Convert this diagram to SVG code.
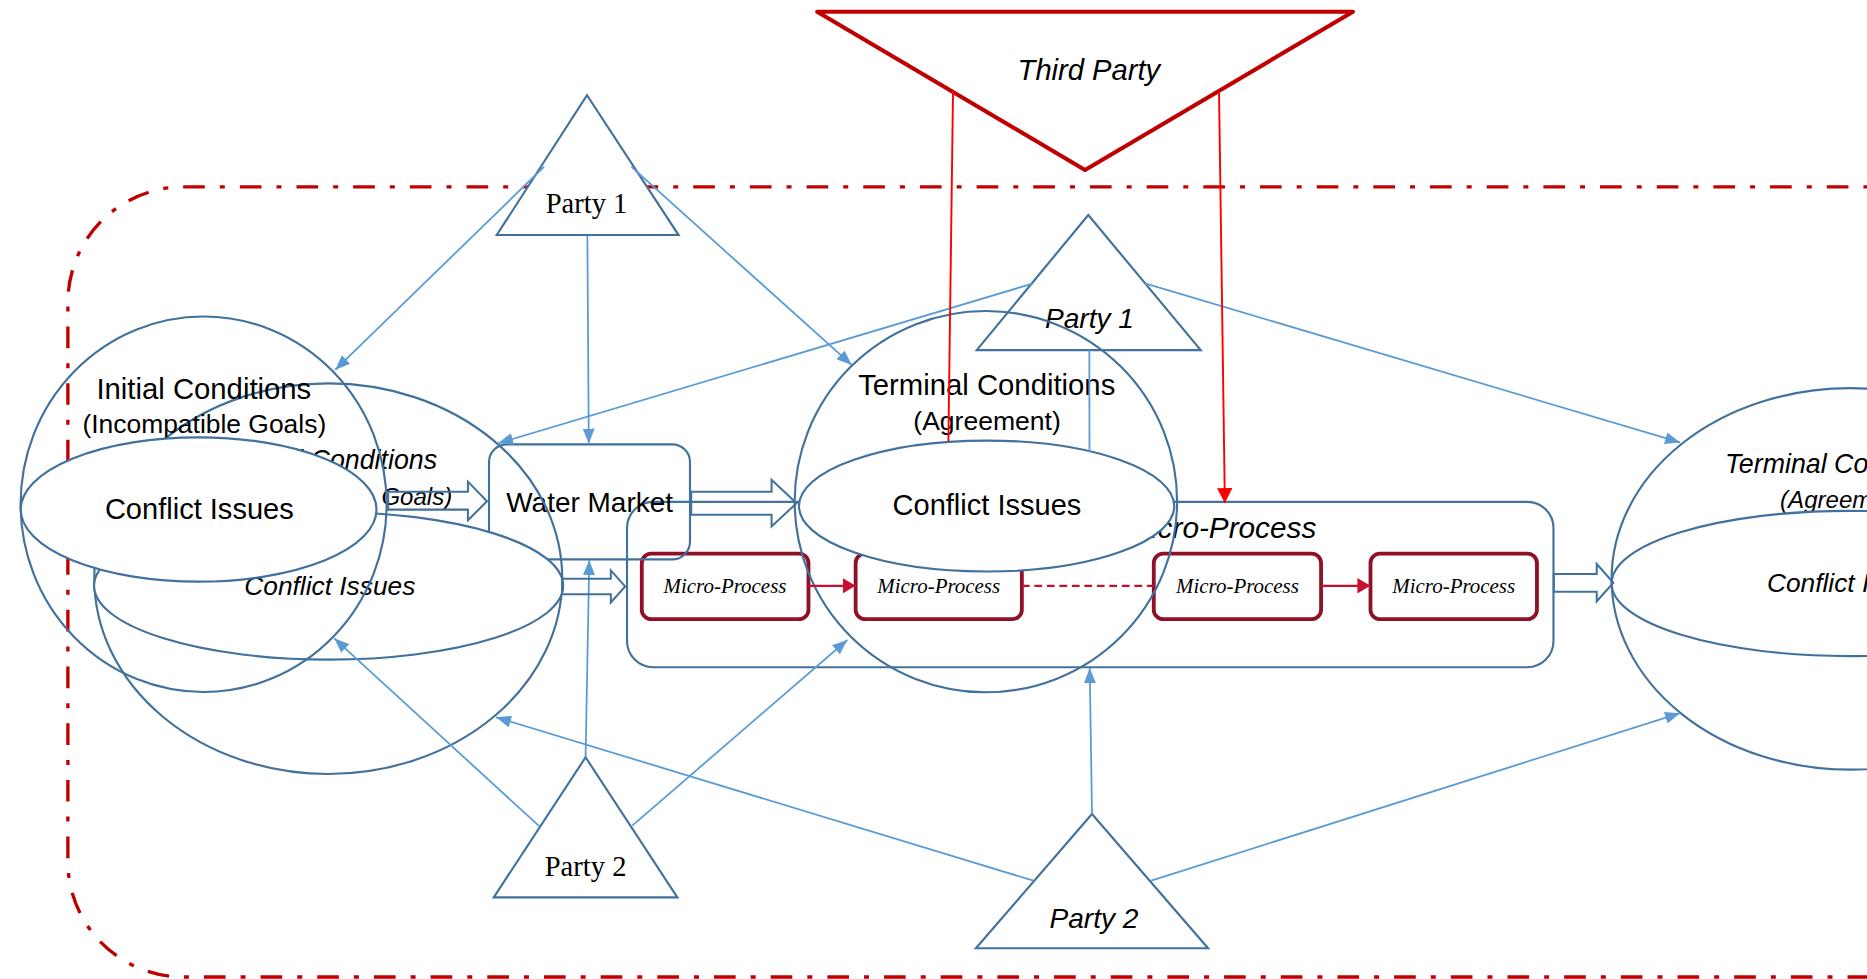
<svg xmlns="http://www.w3.org/2000/svg" width="1867" height="979" viewBox="0 0 1867 979">
<style>
.el{fill:none;stroke:#41719C;stroke-width:1.8}
.elw{fill:#fff;stroke:#41719C;stroke-width:1.8}
.tri{fill:#fff;stroke:#41719C;stroke-width:1.8}
.box{fill:none;stroke:#41719C;stroke-width:1.8}
.ln{fill:none;stroke:#5B9BD5;stroke-width:1.5}
.rl{fill:none;stroke:#FF0000;stroke-width:1.6}
.mp{fill:#fff;stroke:#8E1128;stroke-width:3.2}
.ma{fill:none;stroke:#C8102E;stroke-width:1.8}
.blk{fill:none;stroke:#41719C;stroke-width:1.7}
.bd{fill:none;stroke:#C00000;stroke-width:2.8;stroke-dasharray:18.2 12.6 4.2 12.6}
.s{font-family:"Liberation Sans",Arial,sans-serif;fill:#000}
.t{font-family:"Liberation Serif","Times New Roman",serif;fill:#000}
.i{font-style:italic}
.m{text-anchor:middle}
</style>
<defs>
<marker id="ab" markerUnits="userSpaceOnUse" markerWidth="12.6" markerHeight="10" refX="12.6" refY="5" orient="auto" viewBox="0 0 12.6 10"><path d="M0,0 L12.6,5 L0,10 Z" fill="#5B9BD5"/></marker>
<marker id="ar" markerUnits="userSpaceOnUse" markerWidth="12.6" markerHeight="13" refX="12.6" refY="6.5" orient="auto" viewBox="0 0 12.6 13"><path d="M0,0 L12.6,6.5 L0,13 Z" fill="#FF0000"/></marker>
<marker id="ac" markerUnits="userSpaceOnUse" markerWidth="11" markerHeight="13" refX="11" refY="6.5" orient="auto" viewBox="0 0 11 13"><path d="M0,0 L11,6.5 L0,13 Z" fill="#C8102E"/></marker>
</defs>
<rect width="1867" height="979" fill="#fff"/>
<g transform="scale(1.19069)">
<g id="boundary">
<path class="bd" d="M1600,157 H154 A97,97 0 0 0 57,254 V723 A97,97 0 0 0 154,820.5 H1600"/>
</g>
<g id="third-party">
<polygon points="686.3,9.8 1136.3,9.8 911.3,142.8" fill="#fff" stroke="#C00000" stroke-width="3.4" stroke-linejoin="round"/>
<text class="s i m" x="914.5" y="67.2" font-size="24.5">Third Party</text>
</g>
<g id="party1-left">
<polygon class="tri" points="493,80 569.9,197.4 417.2,197.4"/>
<text class="t m" x="492.6" y="179.2" font-size="24">Party 1</text>
</g>
<g id="micro-process-container">
<rect class="box" x="526.6" y="421.5" width="778.1" height="138.9" rx="22"/>
<text class="s i" x="1105.5" y="452" font-size="25" text-anchor="end">Micro-Process</text>
</g>
<g id="micro-process-1">
<rect class="mp" x="539" y="465" width="140" height="55" rx="8"/>
<text class="t i m" x="608.9" y="498.3" font-size="17.6">Micro-Process</text>
</g>
<g id="micro-process-2">
<rect class="mp" x="718.6" y="465" width="139.6" height="55" rx="8"/>
<text class="t i m" x="788.4" y="498.3" font-size="17.6">Micro-Process</text>
</g>
<g id="micro-process-3">
<rect class="mp" x="969" y="465" width="140.5" height="55" rx="8"/>
<text class="t i m" x="1039.3" y="498.3" font-size="17.6">Micro-Process</text>
</g>
<g id="micro-process-4">
<rect class="mp" x="1151" y="465" width="139.8" height="55" rx="8"/>
<text class="t i m" x="1220.9" y="498.3" font-size="17.6">Micro-Process</text>
</g>
<g id="water-market">
<rect class="box" x="410.7" y="373.2" width="168.8" height="96.6" rx="15"/>
<text class="s m" x="495.2" y="429.7" font-size="23.5">Water Market</text>
</g>
<g id="initial-conditions-back">
<ellipse class="el" cx="275.7" cy="486" rx="196.5" ry="164"/>
<text class="s i" x="367.1" y="394.2" font-size="22.5" text-anchor="end">Initial Conditions</text>
<text class="s i" x="379.8" y="424" font-size="20.2" text-anchor="end">(Incompatible Goals)</text>
<ellipse class="elw" cx="276" cy="492" rx="197" ry="62"/>
<text class="s i m" x="277" y="499.7" font-size="22.1">Conflict Issues</text>
</g>
<g id="initial-conditions">
<ellipse class="el" cx="171" cy="423.5" rx="153.7" ry="157.7"/>
<text class="s m" x="171.2" y="335.4" font-size="24.6">Initial Conditions</text>
<text class="s m" x="171.6" y="363.5" font-size="22.2">(Incompatible Goals)</text>
<ellipse class="elw" cx="166.8" cy="427.9" rx="149.4" ry="60.6"/>
<text class="s m" x="167.4" y="436.2" font-size="24.4">Conflict Issues</text>
</g>
<g id="party1-middle">
<polygon class="tri" points="914,180.6 1008.4,294 820.3,294"/>
<text class="s i m" x="915" y="275.8" font-size="23.6">Party 1</text>
</g>
<g id="terminal-conditions">
<ellipse class="el" cx="828" cy="421.3" rx="160.6" ry="160.1"/>
<text class="s m" x="828.7" y="331.7" font-size="24.6">Terminal Conditions</text>
<text class="s m" x="829" y="361.5" font-size="22.3">(Agreement)</text>
<ellipse class="elw" cx="828.6" cy="425" rx="157.6" ry="55"/>
<text class="s m" x="828.9" y="432.5" font-size="24.4">Conflict Issues</text>
</g>
<g id="terminal-conditions-right">
<ellipse class="el" cx="1554" cy="486.2" rx="200.5" ry="160.2"/>
<text class="s i" x="1448.7" y="397" font-size="22.5">Terminal Conditions</text>
<text class="s i" x="1495" y="427" font-size="20.2">(Agreement)</text>
<ellipse class="elw" cx="1553" cy="490" rx="199.5" ry="61"/>
<text class="s i" x="1484" y="497" font-size="22.1">Conflict Issues</text>
</g>
<g id="party2-left">
<polygon class="tri" points="491.8,636 568.9,753.6 414.7,753.6"/>
<text class="t m" x="491.8" y="735.7" font-size="24">Party 2</text>
</g>
<g id="party2-middle">
<polygon class="tri" points="917.1,683.6 1014.6,796.4 819.6,796.4"/>
<text class="s i m" x="918.8" y="779.6" font-size="23.6">Party 2</text>
</g>
<g id="connectors">
<line class="ln" x1="457" y1="140" x2="281.5" y2="310.7" marker-end="url(#ab)"/>
<line class="ln" x1="493.3" y1="198" x2="494.5" y2="372.5" marker-end="url(#ab)"/>
<line class="ln" x1="530.2" y1="140" x2="715.3" y2="306.5" marker-end="url(#ab)"/>
<line class="ln" x1="867.8" y1="238" x2="418.4" y2="372.3" marker-end="url(#ab)"/>
<line class="ln" x1="914.9" y1="294" x2="915" y2="379.5"/>
<line class="ln" x1="961.6" y1="238" x2="1411" y2="371.6" marker-end="url(#ab)"/>
<line class="ln" x1="453.3" y1="694.3" x2="280.7" y2="536.1" marker-end="url(#ab)"/>
<line class="ln" x1="491.8" y1="636" x2="494.9" y2="470.3" marker-end="url(#ab)"/>
<line class="ln" x1="531" y1="693.4" x2="711.6" y2="537.5" marker-end="url(#ab)"/>
<line class="ln" x1="867.8" y1="739.6" x2="416.6" y2="602.4" marker-end="url(#ab)"/>
<line class="ln" x1="917.1" y1="683.6" x2="915.2" y2="561" marker-end="url(#ab)"/>
<line class="ln" x1="966.9" y1="739.6" x2="1411" y2="599" marker-end="url(#ab)"/>
<line class="rl" x1="800.4" y1="76.5" x2="796.5" y2="370.5"/>
<line class="rl" x1="1023.8" y1="77" x2="1028.7" y2="422.5" marker-end="url(#ar)"/>
<path class="blk" d="M326,413 H393 V404.5 L409,421 L393,437 V428 H326 Z"/>
<path class="blk" d="M472,486 H513 V479 L525,492.5 L513,506 V499 H472 Z"/>
<path class="blk" d="M580.5,413 H648 V403 L669,422.6 L648,442.2 V432.4 H580.5 Z"/>
<path class="blk" d="M1305,482 H1341 V473.7 L1355,489.4 L1341,505 V497 H1305 Z"/>
<line class="ma" x1="679" y1="492" x2="718.6" y2="492" marker-end="url(#ac)"/>
<line class="ma" x1="858.2" y1="492" x2="969" y2="492" stroke-width="1.3" stroke-dasharray="6.5 4"/>
<line class="ma" x1="1109.5" y1="492" x2="1151" y2="492" marker-end="url(#ac)"/>
</g>
</g>
</svg>
